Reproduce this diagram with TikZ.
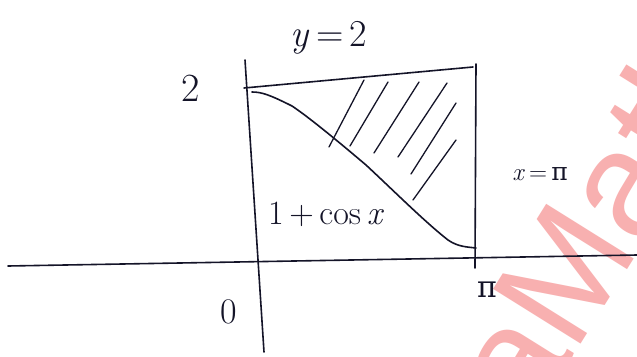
\documentclass[tikz,border=0pt]{standalone}
\usepackage{fontspec}
\setsansfont{Liberation Sans}
\newfontfamily\grk{DejaVu Serif}
\newcommand{\mypi}{{\grk π}}
\begin{document}
\begin{tikzpicture}[x=1pt,y=1pt,
  ink/.style={draw=inkc,line width=1.6pt,line cap=round,line join=round},
  hatch/.style={draw=inkc,line width=1.3pt,line cap=round},
  lbl/.style={text=inkc,inner sep=0pt,font=\fontsize{36}{36}\selectfont}]
\definecolor{inkc}{HTML}{141428}
\definecolor{wm}{HTML}{F8B0B0}
\useasboundingbox (0,-356) rectangle (637,0);
\fill[white] (0,-356) rectangle (637,0);
% watermark
\begin{scope}
\clip (0,-356) rectangle (637,0);
\node[text=wm,rotate=58,font=\sffamily\fontsize{150}{150}\selectfont,anchor=base west,inner sep=0pt] (wmk) at (530,-425) {aMath};
\end{scope}
% axes
\draw[ink] (8,-266) -- (637,-255);
\draw[ink] (245,-60) -- (264,-352);
% y=2 and x=pi lines
\draw[ink] (244,-88) -- (473,-67);
\draw[ink] (476,-64) -- (475,-268);
% curve 1+cos x
\draw[ink] (252,-92) .. controls (262,-92) and (270,-95) .. (292,-106)
  .. controls (310,-118) and (340,-143) .. (366,-165)
  .. controls (395,-192) and (425,-222) .. (448,-240)
  .. controls (458,-247) and (468,-247) .. (476,-248);
% hatching
\draw[hatch] (364,-80) -- (329,-147);
\draw[hatch] (388,-82) -- (350,-146);
\draw[hatch] (419,-82) -- (374,-153);
\draw[hatch] (447,-83) -- (398,-157);
\draw[hatch] (456,-103) -- (411,-174);
\draw[hatch] (456,-140) -- (413,-200);
% labels
\node[lbl,font=\fontsize{38}{38}\selectfont] (ylab) at (329,-38) {\textit{y}\,=\,2};
\node[lbl,font=\fontsize{40}{40}\selectfont] (two) at (191,-88) {2};
\node[lbl,font=\fontsize{25}{25}\selectfont] (xlab) at (540,-174) {\textit{x}\,=\,\mypi};
\node[lbl,font=\fontsize{34}{34}\selectfont] (fx) at (326,-214) {1\,+\,cos\,\textit{x}};
\node[lbl] (zero) at (229,-312) {0};
\node[lbl,font=\fontsize{30}{30}\selectfont] (pi) at (487,-290) {\mypi};
\end{tikzpicture}
\end{document}
